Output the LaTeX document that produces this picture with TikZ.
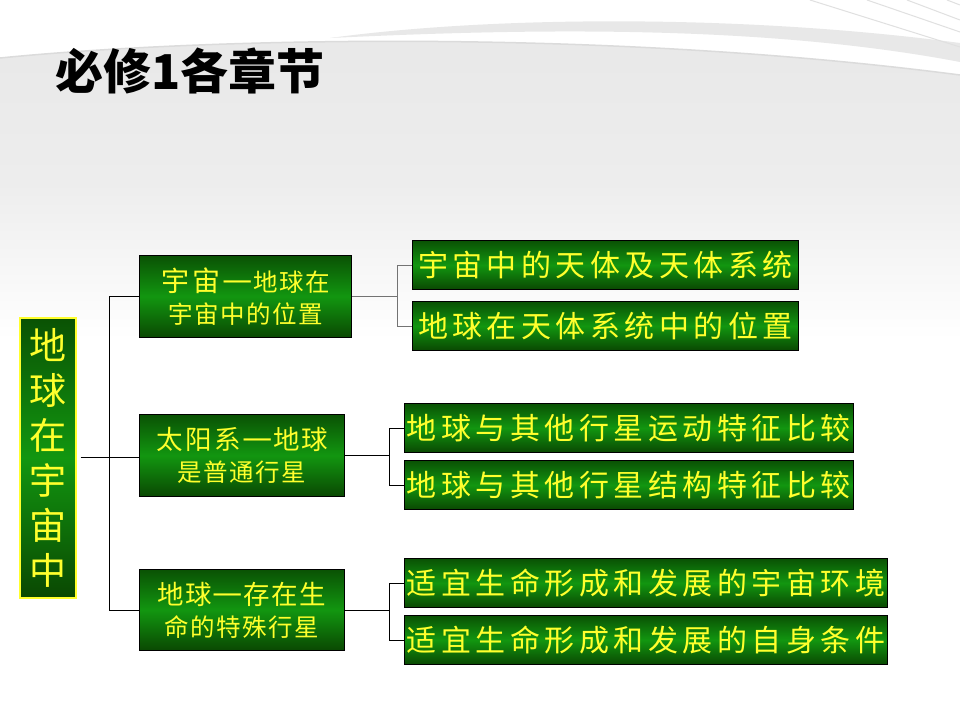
\documentclass[tikz,border=0pt]{standalone}
\usepackage{fontspec}
\newfontfamily\cjk{Noto Sans CJK SC}
\definecolor{gdark}{RGB}{10,82,4}
\definecolor{gmid}{RGB}{18,150,16}
\definecolor{gdark2}{RGB}{10,72,2}
\definecolor{ylw}{RGB}{255,255,45}
\newcommand\spr[2]{\def\sprw{#1}\sprloop#2\relax}
\def\sprloop#1{\ifx\relax#1\else\makebox[\sprw]{#1}\expandafter\sprloop\fi}
\newcommand\cdash{{\fontsize{34}{32}\selectfont —}}
\tikzset{
  gbox/.style={draw=black, line width=1pt, inner sep=0pt, anchor=north west,
    top color=gdark, bottom color=gdark2, middle color=gmid, text=ylw},
  lthree/.style={gbox, minimum height=49pt, font=\cjk\fontsize{30}{30}\selectfont},
  ltwo/.style={gbox, minimum height=82pt, align=center, font=\cjk\fontsize{24.5}{32}\selectfont},
  conn/.style={draw=black, line width=1pt},
  connb/.style={draw=black!55, line width=1pt},
}
\begin{document}
\begin{tikzpicture}[x=1pt,y=-1pt]
\useasboundingbox (0,0) rectangle (960,720);
\fill[white] (0,0) rectangle (960,720);
% background swoosh
\shade[top color=black!9, bottom color=white, middle color=black!7]
  (0,58) .. controls (200,38) and (600,28) .. (960,75) -- (960,340) -- (0,340) -- cycle;
\draw[black!14, line width=1.5pt] (0,58) .. controls (200,38) and (600,28) .. (960,75);
\fill[black!9] (330,38) .. controls (500,15) and (750,15) .. (960,43) -- (960,62)
  .. controls (750,22) and (500,30) .. (330,38) -- cycle;
\draw[black!12, line width=1pt] (810,0) -- (960,47);
\draw[black!12, line width=1pt] (867,0) -- (960,32);
\draw[black!12, line width=1pt] (907,0) -- (960,20);
\draw[black!12, line width=1pt] (947,0) -- (960,5);
% title
\node[anchor=west, inner sep=0pt, font=\cjk\bfseries\fontsize{48}{48}\selectfont] (title) at (55,71) {必修1各章节};
% root
\node[gbox, draw=ylw, line width=1.5pt, minimum width=56pt, minimum height=280pt, align=center,
  font=\cjk\fontsize{37}{45}\selectfont] (root) at (19,317) {地\\球\\在\\宇\\宙\\中};
% level 2
\node[ltwo, minimum width=212pt] (A) at (139,255)
  {{\fontsize{28}{32}\selectfont\spr{31pt}{宇宙}}\cdash\spr{26pt}{地球在}\\\spr{26pt}{宇宙中的位置}};
\node[ltwo, minimum width=205pt] (B) at (139,414)
  {{\fontsize{26.5}{32}\selectfont\spr{29pt}{太阳系}\cdash\spr{28pt}{地球}}\\\spr{26pt}{是普通行星}};
\node[ltwo, minimum width=205pt, minimum height=81pt] (C) at (139,569)
  {{\fontsize{26.5}{32}\selectfont\spr{28pt}{地球}\cdash\spr{28pt}{存在生}}\\\spr{26pt}{命的特殊行星}};
% level 3
\node[lthree, minimum width=386pt] (A1) at (412,240) {\spr{34.5pt}{宇宙中的天体及天体系统}};
\node[lthree, minimum width=386pt] (A2) at (412,301) {\spr{34.5pt}{地球在天体系统中的位置}};
\node[lthree, minimum width=447pt] (B1) at (404,403) {\spr{34.5pt}{地球与其他行星运动特征比较}};
\node[lthree, minimum width=447pt] (B2) at (404,460) {\spr{34.5pt}{地球与其他行星结构特征比较}};
\node[lthree, minimum width=476pt] (C1) at (404,558) {\spr{34.5pt}{适宜生命形成和发展的宇宙环境}};
\node[lthree, minimum width=476pt] (C2) at (404,615) {\spr{34.5pt}{适宜生命形成和发展的自身条件}};
% connectors
\coordinate (t1) at (109,0);
\coordinate (t2) at (397,0);
\coordinate (t3) at (389,0);
\draw[conn, shorten <=4pt] (root.east) -- (root.east -| B.west);
\draw[conn] (A.west) -- (A.west -| t1) -- (C.west -| t1) -- (C.west);
\draw[connb] (A.east) -- (A.east -| t2);
\draw[connb] (A1.west) -- (A1.west -| t2) -- (A2.west -| t2) -- (A2.west);
\draw[conn] (B.east) -- (B.east -| t3);
\draw[conn] (B1.west) -- (B1.west -| t3) -- (B2.west -| t3) -- (B2.west);
\draw[conn] (C.east) -- (C.east -| t3);
\draw[conn] (C1.west) -- (C1.west -| t3) -- (C2.west -| t3) -- (C2.west);
\end{tikzpicture}
\end{document}
